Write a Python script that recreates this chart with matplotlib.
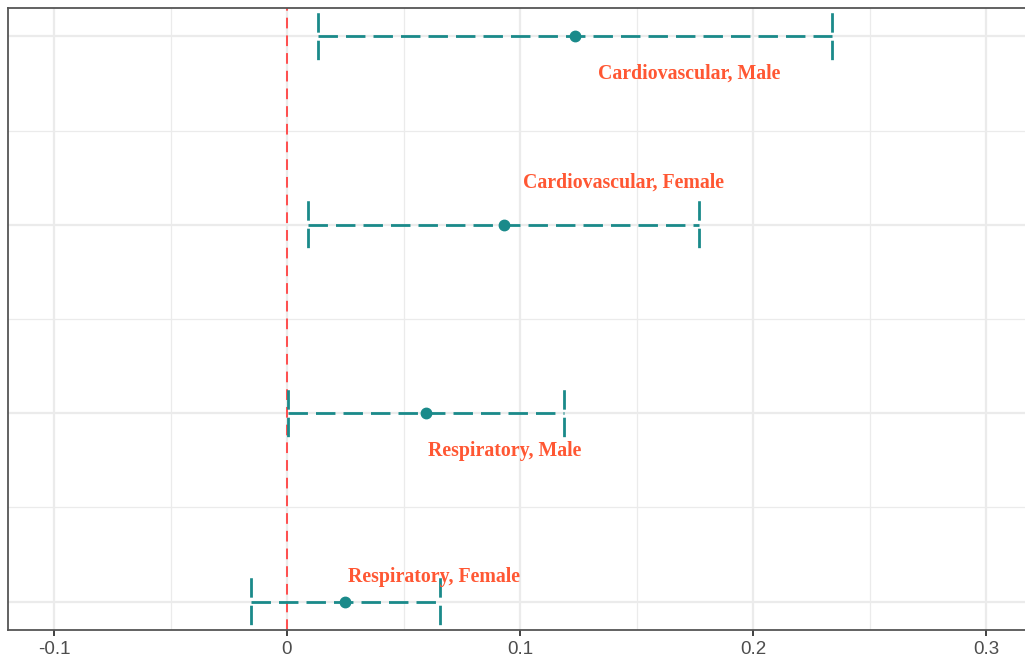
import matplotlib
matplotlib.use('Agg')
from matplotlib import pyplot as plt

# ********* data *********
groups = ['Respiratory, Female', 'Respiratory, Male', 'Cardiovascular, Female', 'Cardiovascular, Male']
est = [0.025, 0.0597, 0.0931, 0.1236]
lower = [-0.0155, 0.0004, 0.009, 0.0133]
upper = [0.0657, 0.119, 0.177, 0.234]
# label anchor (x in data units, y offset from the row)
label_x = [0.063, 0.0936, 0.1444, 0.1725]
label_dy = [0.13, -0.20, 0.222, -0.196]
xticks = [-0.1, 0, 0.1, 0.2, 0.3]

teal = '#1a8a8a'
red = '#ff4d4d'
txt_red = '#ff5733'
grid_c = '#ebebeb'

W, H = 1025, 664
fig = plt.figure(figsize=(W / 100, H / 100), dpi=100)
ax = fig.add_axes([8 / W, 34 / H, (W - 8) / W, 622 / H])

ax.set_xlim((8 - 287) / 2330, (W - 287) / 2330)
ax.set_ylim(0.85, 4.15)

# grid
for v in [-0.1, 0, 0.1, 0.2, 0.3]:
    ax.axvline(v, color=grid_c, lw=1.6, zorder=0)
for v in [-0.05, 0.05, 0.15, 0.25]:
    ax.axvline(v, color=grid_c, lw=0.9, zorder=0)
for r in range(1, 5):
    ax.axhline(r, color=grid_c, lw=1.6, zorder=0)
for r in [1.5, 2.5, 3.5]:
    ax.axhline(r, color=grid_c, lw=0.9, zorder=0)

ax.axvline(0, color=red, lw=1.4, ls=(0, (5.5, 3.6)), zorder=2)

cap = 0.15
dash = (0, (7, 2.9))
cap_dash = (8.2, (7, 2.9))
for i in range(len(groups)):
    y = i + 1
    ax.plot([lower[i], upper[i]], [y, y], color=teal, lw=2, ls=dash, zorder=3)
    for xe in (lower[i], upper[i]):
        ax.plot([xe, xe], [y + cap, y - cap], color=teal, lw=2, ls=cap_dash, zorder=3)
    ax.plot(est[i], y, 'o', color=teal, ms=7.5, zorder=4)
    ax.text(label_x[i], y + label_dy[i], groups[i], color=txt_red, fontsize=14.3,
            fontweight='bold', family='Liberation Serif', ha='center', va='center')

ax.set_xticks(xticks)
ax.set_xticklabels(['-0.1', '0', '0.1', '0.2', '0.3'], fontsize=13.5, color='#4d4d4d',
                   family='Liberation Sans')
ax.set_yticks([])
ax.tick_params(axis='x', length=4, width=1.3, color='#333333', pad=4)
for s in ['left', 'bottom', 'top']:
    ax.spines[s].set_color('#555555')
    ax.spines[s].set_linewidth(1.3)
ax.spines['right'].set_visible(False)

fig.savefig('out.png', dpi=100)
